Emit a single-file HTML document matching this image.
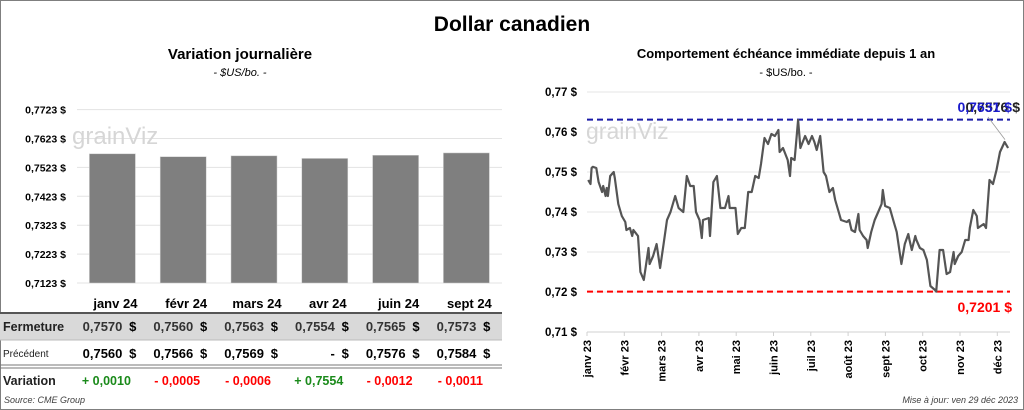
<!DOCTYPE html>
<html><head><meta charset="utf-8"><style>
html,body{margin:0;padding:0;background:#fff}
svg{display:block;font-family:"Liberation Sans",Arial,sans-serif}
</style></head><body>
<svg width="1024" height="410" viewBox="0 0 1024 410">
<rect x="0.5" y="0.5" width="1023" height="409" fill="#fff" stroke="#7f7f7f"/>
<text x="512" y="31" text-anchor="middle" font-size="21" font-weight="bold">Dollar canadien</text>
<text x="240" y="59" text-anchor="middle" font-size="15" font-weight="bold">Variation  journalière</text>
<text x="240" y="76" text-anchor="middle" font-size="11" font-style="italic">- $US/bo. -</text>
<text x="786" y="58" text-anchor="middle" font-size="13" font-weight="bold">Comportement échéance immédiate depuis 1 an</text>
<text x="786" y="76" text-anchor="middle" font-size="11">- $US/bo. -</text>
<g id="left"></g>
<g id="table"></g>
<g id="right"></g>
<text x="4" y="403" font-size="9" font-style="italic" fill="#404040">Source: CME Group</text>
<text x="1018" y="403" text-anchor="end" font-size="9" font-style="italic" fill="#404040">Mise à jour: ven 29 déc 2023</text>
</svg>
<script>
const NS="http://www.w3.org/2000/svg";
const barCats=["janv 24","févr 24","mars 24","avr 24","juin 24","sept 24"];
const barVals=[0.7570,0.7560,0.7563,0.7554,0.7565,0.7573];
const prevVals=["0,7560","0,7566","0,7569","-","0,7576","0,7584"];
const varVals=["+ 0,0010","- 0,0005","- 0,0006","+ 0,7554","- 0,0012","- 0,0011"];
const barTicks=[0.7123,0.7223,0.7323,0.7423,0.7523,0.7623,0.7723];
const lineDays=[1,3,4,5,8,10,13,14,16,17,18,20,23,24,27,30,33,34,37,39,40,44,46,49,53,54,57,60,63,66,69,72,76,79,83,86,89,92,94,97,99,100,105,106,109,112,115,119,122,123,128,130,133,136,139,142,145,148,150,153,156,159,162,165,166,169,173,175,176,179,182,184,188,191,194,196,198,201,204,206,209,212,214,217,219,224,226,228,231,234,235,238,241,242,245,248,251,254,255,257,261,264,267,270,271,274,277,278,280,283,284,287,290,293,296,300,301,304,307,310,313,316,317,320,323,326,329,330,333,336,337,342,344,347,350,353,356,360,363];
const lineVals=[.748,.747,.751,.7513,.751,.7475,.745,.7465,.744,.746,.744,.749,.750,.7485,.742,.739,.7375,.7355,.736,.734,.7355,.734,.725,.723,.731,.727,.729,.732,.726,.732,.738,.740,.744,.741,.740,.749,.7465,.7465,.740,.738,.7335,.738,.7385,.734,.7475,.749,.741,.741,.744,.741,.741,.7345,.736,.736,.745,.745,.749,.7485,.752,.7585,.757,.7595,.759,.7605,.755,.756,.753,.749,.7535,.753,.763,.756,.759,.757,.759,.7575,.7555,.759,.750,.749,.745,.746,.743,.740,.738,.7375,.738,.7355,.735,.7395,.7355,.734,.733,.731,.735,.738,.740,.742,.7455,.7415,.741,.738,.735,.729,.727,.732,.7345,.733,.7305,.734,.733,.731,.7305,.728,.7215,.7205,.7201,.7305,.7305,.7245,.725,.730,.727,.729,.730,.733,.733,.736,.7405,.739,.736,.737,.736,.748,.747,.7505,.755,.7575,.756];
const months=["janv 23","févr 23","mars 23","avr 23","mai 23","juin 23","juil 23","août 23","sept 23","oct 23","nov 23","déc 23"];
const lineTicks=[0.71,0.72,0.73,0.74,0.75,0.76,0.77];
const hiVal=0.7631, loVal=0.7201, lastVal=0.7576;

function el(tag,attrs,parent,txt){const e=document.createElementNS(NS,tag);for(const k in attrs)e.setAttribute(k,attrs[k]);if(txt!==undefined)e.textContent=txt;parent.appendChild(e);return e;}
const fmt=(v,d)=>v.toFixed(d).replace('.',',');

// bar chart
const L=document.getElementById('left');
const by=v=>283-(v-0.7123)*2890;
const bx=i=>77+70.8*i+35.4;
barTicks.forEach(t=>{
  const g=el('line',{x1:77,x2:502,y1:by(t),y2:by(t),stroke:'#e3e3e3'},L);
  
  const tx=el('text',{x:66,y:by(t)+4,'text-anchor':'end','font-size':10.5,'font-weight':'bold'},L,fmt(t,4)+' $');
  
});
const wm=el('text',{x:72,y:144,'font-size':24,fill:'#d6d6d6'},L,'grainViz');

barVals.forEach((v,i)=>{
  const r=el('rect',{x:bx(i)-23,y:by(v),width:46,height:283-by(v),fill:'#7f7f7f',stroke:'#d0d0d0','stroke-width':0.5},L);
  
});
// table
const T=document.getElementById('table');
const bg=el('rect',{x:0,y:313,width:502,height:27,fill:'#d9d9d9'},T);

const l1=el('line',{x1:0,x2:502,y1:313,y2:313,stroke:'#555','stroke-width':2},T);

const l2=el('line',{x1:0,x2:502,y1:340,y2:340,stroke:'#bbb'},T);

[365,368].forEach(y=>{const d=el('line',{x1:0,x2:502,y1:y,y2:y,stroke:'#777'},T);});
const rl=[['Fermeture',331,12.5,'bold'],['Précédent',357,10,'normal'],['Variation',385,12.5,'bold']];
rl.forEach(r=>{const t=el('text',{x:3,y:r[1],'font-size':r[2],'font-weight':r[3],fill:'#222'},T,r[0]);});
barCats.forEach((c,i)=>{
  const cx=bx(i);
  const h=el('text',{x:cx+3,y:308,'text-anchor':'middle','font-size':13,'font-weight':'bold'},T,c);
  
  const f=el('text',{x:cx+10,y:331,'text-anchor':'end','font-size':13,'font-weight':'bold',fill:'#333'},T,fmt(barVals[i],4));
  
  const p=el('text',{x:cx+10,y:358,'text-anchor':'end','font-size':13,'font-weight':'bold'},T,prevVals[i]);
  
  [331,358].forEach(y=>{const s=el('text',{x:cx+24,y:y,'text-anchor':'end','font-size':13,'font-weight':'bold'},T,'$');});
  const v=el('text',{x:cx-6,y:385,'text-anchor':'middle','font-size':12.5,'font-weight':'bold',fill:varVals[i][0]=='+'?'#1a8a1a':'#ff0000'},T,varVals[i]);
  
});
// line chart
const R=document.getElementById('right');
const ly=v=>332-(v-0.71)*4000;
const lx=d=>587+d*1.16;
lineTicks.forEach(t=>{
  const g=el('line',{x1:587,x2:1010,y1:ly(t),y2:ly(t),stroke:t==0.71?'#d0d0d0':'#e6e6e6'},R);
  
  const tx=el('text',{x:577,y:ly(t)+4,'text-anchor':'end','font-size':11.5,'font-weight':'bold'},R,fmt(t,2)+' $');
  
});
const wm2=el('text',{x:586,y:139,'font-size':23,fill:'#d6d6d6'},R,'grainViz');

months.forEach((m,i)=>{
  const x=587+i*37.3;
  const tk=el('line',{x1:x,x2:x,y1:332,y2:336,stroke:'#d0d0d0'},R);
  
  const t=el('text',{x:0,y:0,'text-anchor':'end','font-size':11,'font-weight':'bold',transform:`translate(${x+4},340) rotate(-90)`},R,m);
  
});
const hl=el('line',{x1:587,x2:1010,y1:ly(hiVal),y2:ly(hiVal),stroke:'#1a1aa6','stroke-width':2,'stroke-dasharray':'6,4'},R);

const lo=el('line',{x1:587,x2:1010,y1:ly(loVal),y2:ly(loVal),stroke:'#ff0000','stroke-width':2,'stroke-dasharray':'6,4'},R);

const pts=lineDays.map((d,i)=>lx(d).toFixed(1)+','+ly(lineVals[i]).toFixed(1)).join(' ');
const pl=el('polyline',{points:pts,fill:'none',stroke:'#555','stroke-width':2.2,'stroke-linejoin':'round'},R);

const cl=el('line',{x1:988,y1:117,x2:1005,y2:ly(lastVal)-2,stroke:'#999','stroke-width':0.8},R);

const t1=el('text',{x:1020,y:112,'text-anchor':'end','font-size':14,'font-weight':'bold',fill:'#222'},R,fmt(lastVal,4)+' $');

const t2=el('text',{x:1012,y:112,'text-anchor':'end','font-size':14,'font-weight':'bold',fill:'#1a1acc'},R,fmt(hiVal,4)+' $');

const t3=el('text',{x:1012,y:312,'text-anchor':'end','font-size':14,'font-weight':'bold',fill:'#ff0000'},R,fmt(loVal,4)+' $');

</script>
</body></html>
